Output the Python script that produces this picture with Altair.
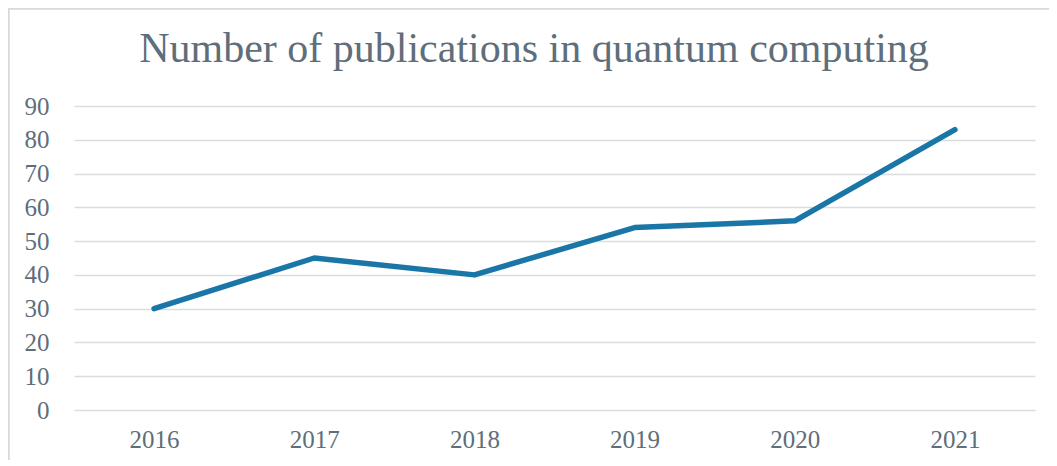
import altair as alt
import pandas as pd

years = ["2016", "2017", "2018", "2019", "2020", "2021"]
publications = [30, 45, 40, 54, 56, 83]
title_text = "Number of publications in quantum computing"

df = pd.DataFrame({"year": years, "count": publications})
tdf = pd.DataFrame({"t": [title_text]})

TEXT = "#5E6E7A"
GRID = "#D9DDE0"

line = alt.Chart(df).mark_line(
    color="#1B76A8", strokeWidth=5.5, strokeCap="round", strokeJoin="round"
).encode(
    x=alt.X("year:N", title=None, sort=years,
            scale=alt.Scale(type="point", padding=0.5),
            axis=alt.Axis(labelAngle=0, labelFont="Liberation Serif", labelFontSize=25,
                          labelColor=TEXT, ticks=False, domain=False, grid=False,
                          labelPadding=17)),
    y=alt.Y("count:Q", title=None,
            scale=alt.Scale(domain=[0, 90], nice=False),
            axis=alt.Axis(values=list(range(0, 100, 10)), labelFont="Liberation Serif",
                          labelFontSize=25, labelColor=TEXT, ticks=False, domain=False,
                          grid=True, gridColor=GRID, gridWidth=1.6, labelPadding=25)),
)

title = alt.Chart(tdf).mark_text(
    font="Liberation Serif", fontSize=42, color=TEXT, align="center", baseline="alphabetic"
).encode(x=alt.value(460), y=alt.value(-44), text="t:N")

border_left = alt.Chart(df).mark_rule(color="#D9D9D9", strokeWidth=1.5).encode(
    x=alt.value(-65.5), y=alt.value(-98), y2=alt.value(360)
)
border_top = alt.Chart(df).mark_rule(color="#D9D9D9", strokeWidth=1.5).encode(
    y=alt.value(-97.5), x=alt.value(-66), x2=alt.value(975)
)

chart = alt.layer(border_left, border_top, title, line).properties(
    width=961,
    height=304,
    autosize=alt.AutoSizeParams(type="none"),
    padding={"left": 66, "top": 98, "right": 14, "bottom": 50},
).configure(background="white").configure_view(stroke=None)

chart.save("out.html", embed_options={"renderer": "svg", "actions": False})
